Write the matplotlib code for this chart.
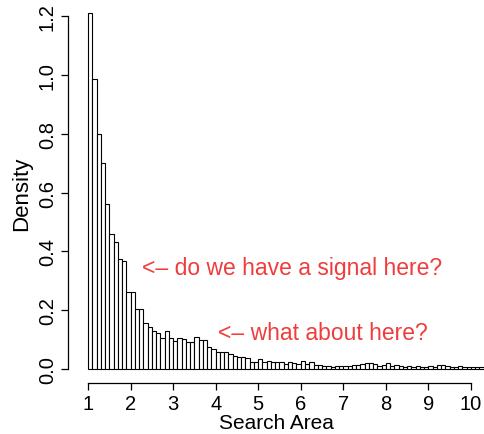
import numpy as np
import matplotlib
matplotlib.use("Agg")
import matplotlib.pyplot as plt

plt.rcParams["font.family"] = ["Liberation Sans", "DejaVu Sans"]

# histogram of search area, bins of width 0.1 starting at 1.0
bin_start = 1.0
bin_width = 0.1
density = [
    1.21, 0.985, 0.80, 0.70, 0.56, 0.46, 0.43, 0.375, 0.368, 0.26,
    0.26, 0.205, 0.205, 0.155, 0.143, 0.13, 0.123, 0.105, 0.13, 0.105,
    0.096, 0.105, 0.10, 0.093, 0.092, 0.107, 0.099, 0.099, 0.076, 0.067,
    0.059, 0.057, 0.057, 0.05, 0.044, 0.04, 0.04, 0.036, 0.025, 0.022,
    0.033, 0.024, 0.026, 0.024, 0.022, 0.022, 0.018, 0.024, 0.02, 0.018,
    0.026, 0.018, 0.022, 0.014, 0.012, 0.01, 0.009, 0.008, 0.01, 0.009,
    0.011, 0.01, 0.012, 0.013, 0.017, 0.019, 0.019, 0.016, 0.01, 0.012,
    0.021, 0.01, 0.014, 0.009, 0.008, 0.01, 0.008, 0.009, 0.007, 0.008,
    0.009, 0.008, 0.012, 0.012, 0.009, 0.008, 0.007, 0.009, 0.008, 0.007,
    0.008, 0.007, 0.006, 0.008,
]
x_ticks = [1, 2, 3, 4, 5, 6, 7, 8, 9, 10]
y_ticks = [0.0, 0.2, 0.4, 0.6, 0.8, 1.0, 1.2]

notes = [
    ("<\u2013 do we have a signal here?", 2.28, 0.345),
    ("<\u2013 what about here?", 4.05, 0.123),
]

left_edges = bin_start + bin_width * np.arange(len(density))

fig = plt.figure(figsize=(4.85, 4.35), dpi=100)
ax = fig.add_axes([68 / 485, 51 / 435, 417 / 485, 381 / 435])

ax.bar(left_edges, density, width=bin_width, align="edge",
       facecolor="white", edgecolor="black", linewidth=0.8)

ax.set_xlim(0.53, 10.33)
ax.set_ylim(-0.048, 1.248)

# R-style axes: lines only span the tick range
for side in ["top", "right"]:
    ax.spines[side].set_visible(False)
ax.spines["left"].set_bounds(0, 1.2)
ax.spines["bottom"].set_bounds(1, 10)
for side in ["left", "bottom"]:
    ax.spines[side].set_linewidth(0.9)

ax.set_xticks(x_ticks)
ax.set_xticklabels([str(t) for t in x_ticks])
ax.set_yticks(y_ticks)
ax.set_yticklabels([f"{t:.1f}" for t in y_ticks], rotation=90, va="center")
ax.tick_params(axis="both", length=5, width=0.9, labelsize=14.5, pad=3)

ax.set_xlabel("Search Area", fontsize=15, labelpad=0)
ax.set_ylabel("Density", fontsize=16, labelpad=4)

for text, x, y in notes:
    ax.text(x, y, text, color="#f03c3c", fontsize=16.5, va="center", ha="left")

fig.savefig("out.png", dpi=100)
